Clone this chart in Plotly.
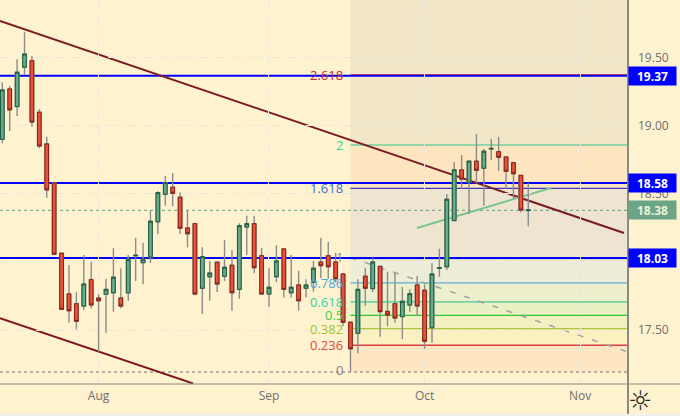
import plotly.graph_objects as go

bar_index = list(range(72))
opens = [18.902,19.272,19.142,19.432,19.480,19.101,18.868,18.581,18.064,17.765,17.693,17.676,17.870,17.735,17.763,17.774,17.735,17.774,18.046,17.995,18.037,18.296,18.498,18.549,18.476,18.250,18.282,17.807,17.892,17.998,17.895,17.976,17.799,18.257,18.282,18.046,17.765,17.892,18.096,17.774,17.831,17.807,17.851,18.000,18.046,18.000,17.912,17.557,17.476,17.895,17.804,17.968,17.637,17.693,17.598,17.684,17.831,17.792,17.517,17.954,17.965,18.304,18.677,18.586,18.741,18.689,18.831,18.811,18.772,18.730,18.637,18.379]
highs = [19.321,19.294,19.490,19.693,19.515,19.123,18.921,18.581,18.066,17.978,17.777,18.052,18.002,17.763,17.875,18.101,17.954,18.052,18.179,18.142,18.375,18.520,18.632,18.654,18.510,18.377,18.282,18.108,18.007,18.002,18.162,18.088,18.285,18.340,18.340,18.105,17.954,18.123,18.096,18.052,17.936,17.873,18.007,18.179,18.147,18.068,17.912,17.557,17.873,17.958,18.032,17.973,17.929,17.917,17.816,17.799,17.897,17.836,17.990,18.098,18.500,18.733,18.787,18.750,18.941,18.831,18.904,18.921,18.772,18.730,18.637,18.579]
lows = [18.873,18.963,19.074,19.375,18.995,18.836,18.473,18.052,17.647,17.554,17.505,17.647,17.660,17.340,17.480,17.635,17.660,17.715,17.860,17.836,17.995,18.206,18.414,18.407,18.206,18.108,17.755,17.618,17.715,17.779,17.860,17.642,17.730,18.052,17.917,17.757,17.671,17.851,17.738,17.738,17.642,17.740,17.782,17.880,17.877,17.851,17.530,17.193,17.329,17.676,17.779,17.451,17.530,17.554,17.434,17.635,17.603,17.360,17.407,17.892,17.941,18.302,18.537,18.351,18.579,18.414,18.750,18.671,18.537,18.463,18.365,18.262]
closes = [19.265,19.118,19.395,19.529,19.029,18.853,18.530,18.057,17.652,17.642,17.564,17.838,17.684,17.715,17.799,17.888,17.676,18.020,18.049,18.020,18.299,18.510,18.583,18.505,18.248,18.208,17.765,18.039,17.919,17.838,17.961,17.774,18.267,18.282,17.958,17.765,17.814,18.007,17.799,17.814,17.715,17.831,17.954,17.973,17.965,17.877,17.557,17.362,17.799,17.807,18.000,17.635,17.610,17.588,17.711,17.767,17.676,17.417,17.912,17.958,18.461,18.677,18.610,18.741,18.674,18.814,18.835,18.770,18.667,18.649,18.382,18.382]

month_ticks = [13, 36, 57, 78]
month_labels = ["Aug", "Sep", "Oct", "Nov"]
price_ticks = [17.5, 18.0, 18.5, 19.0, 19.5]
price_labels = ["17.50", "", "18.50", "19.00", "19.50"]

level_prices = [19.37, 18.58, 18.03]
last_price = 18.38

fib_ratios = ["0", "0.236", "0.382", "0.5", "0.618", "0.786", "1", "1.618", "2", "2.618"]
fib_prices = [17.191, 17.388, 17.510, 17.608, 17.707, 17.847, 18.025, 18.541, 18.860, 19.376]
fib_text_colors = ["#808080", "#e04848", "#9cc634", "#3fd03f", "#34d4a0", "#4aa8e0", "#909090", "#3f6fd8", "#34d4a0", "#c42a2a"]
fib_line_colors = ["#808080", "#d84040", "#a8c838", "#30c830", "#40c898", "#60aed8", "#9090a0", "#3838c0", "#70d0a0", "#d02020"]
fib_fill_colors = ["rgba(250,215,175,0.45)", "rgba(245,240,170,0.40)", "rgba(220,240,160,0.35)", "rgba(190,235,170,0.30)",
                   "rgba(190,235,200,0.28)", "rgba(190,225,240,0.28)", "rgba(170,175,215,0.20)", "rgba(250,215,175,0.5)",
                   "rgba(170,172,165,0.17)", "rgba(170,172,165,0.17)"]
fib_start = 47
axis_top = 19.926
axis_bottom = 17.103
x_left, x_right = -0.31, 84.46

upper_channel_x = [-0.31, 83.92]
upper_channel_y = [19.772, 18.213]
lower_channel_x = [-0.31, 25.74]
lower_channel_y = [17.586, 17.107]
green_trend_x = [55.98, 74.07]
green_trend_y = [18.250, 18.544]
dashed_trend_x = [47, 84.46]
dashed_trend_y = [18.033, 17.338]

RED, RED_EDGE = "#e8523a", "#8a1f14"
GREEN, GREEN_EDGE = "#68ab8b", "#1c5c3c"
WICK = "#8c8c8c"
FONT = "Open Sans"
AXIS_COLOR = "#8a8a80"

shapes = []
edges = fib_prices + [axis_top]
for i, fill in enumerate(fib_fill_colors):
    shapes.append(dict(type="rect", layer="below", x0=fib_start, x1=x_right, y0=edges[i], y1=edges[i + 1],
                       fillcolor=fill, line_width=0))
for i, (price, col) in enumerate(zip(fib_prices, fib_line_colors)):
    if i == 0:
        shapes.append(dict(type="line", layer="below", x0=x_left, x1=x_right, y0=price, y1=price,
                           line=dict(color="#707070", width=1, dash="dot")))
    else:
        shapes.append(dict(type="line", layer="below", x0=fib_start, x1=x_right, y0=price, y1=price,
                           line=dict(color=col, width=1.3)))
shapes.append(dict(type="line", layer="below", x0=x_left, x1=x_right, y0=last_price, y1=last_price,
                   line=dict(color="#5f9f7f", width=1, dash="dot")))
shapes.append(dict(type="line", layer="below", x0=dashed_trend_x[0], x1=dashed_trend_x[1], y0=dashed_trend_y[0], y1=dashed_trend_y[1],
                   line=dict(color="#a0a0a0", width=1.5, dash="6px,9px")))
for price in level_prices:
    shapes.append(dict(type="line", layer="below", x0=x_left, x1=x_right, y0=price, y1=price,
                       line=dict(color="#0000ff", width=2)))
for xs, ys, col in [(upper_channel_x, upper_channel_y, "#7b1a22"), (lower_channel_x, lower_channel_y, "#7b1a22"),
                    (green_trend_x, green_trend_y, "#7cc48c")]:
    shapes.append(dict(type="line", layer="below", x0=xs[0], x1=xs[1], y0=ys[0], y1=ys[1],
                       line=dict(color=col, width=2)))
# frame of the price and time scales: extends past the plot into the margins
shapes.append(dict(type="line", xref="paper", yref="paper", x0=1, x1=1, y0=-30 / 384, y1=1,
                   line=dict(color=AXIS_COLOR, width=2)))
shapes.append(dict(type="line", xref="paper", yref="paper", x0=0, x1=680 / 628, y0=0, y1=0,
                   line=dict(color=AXIS_COLOR, width=1)))
shapes.append(dict(type="rect", xref="paper", yref="paper", x0=0, x1=680 / 628, y0=-32 / 384, y1=-30 / 384,
                   fillcolor="#efefef", line_width=0))

fig = go.Figure()
fig.add_trace(go.Candlestick(x=bar_index, open=opens, high=highs, low=lows, close=closes,
                             increasing=dict(line=dict(color=WICK, width=1.4), fillcolor=WICK),
                             decreasing=dict(line=dict(color=WICK, width=1.4), fillcolor=WICK),
                             whiskerwidth=0, showlegend=False, hoverinfo="skip"))
fig.add_trace(go.Candlestick(x=bar_index, open=opens, close=closes,
                             high=[max(o, c) for o, c in zip(opens, closes)],
                             low=[min(o, c) for o, c in zip(opens, closes)],
                             increasing=dict(line=dict(color=GREEN_EDGE, width=1), fillcolor=GREEN),
                             decreasing=dict(line=dict(color=RED_EDGE, width=1), fillcolor=RED),
                             whiskerwidth=0, showlegend=False))

annotations = []
fib_label_x = 46.3
for r, p, c in zip(fib_ratios, fib_prices, fib_text_colors):
    annotations.append(dict(x=fib_label_x, y=p, text=r, showarrow=False, xanchor="right", yanchor="middle",
                            yshift=2 if r in ("0", "1") else 0,
                            font=dict(family=FONT, size=13, color=c)))
for p in level_prices:
    annotations.append(dict(xref="paper", x=1, y=p, text="<b>%.2f</b>" % p, showarrow=False, xanchor="left", yanchor="middle",
                            width=47, height=18, bgcolor="#0000ff", align="center", valign="middle", borderpad=0,
                            font=dict(family=FONT, size=12, color="#ffffff")))
annotations.append(dict(xref="paper", x=1, y=last_price, text="<b>%.2f</b>" % last_price, showarrow=False, xanchor="left", yanchor="middle",
                        width=47, height=18, bgcolor="#6ba586", align="center", valign="middle", borderpad=0,
                        font=dict(family=FONT, size=12, color="#e9f4d8")))
annotations.append(dict(xref="paper", yref="paper", x=1.0, y=-0.042, xshift=26, text="☼", showarrow=False, yanchor="middle",
                        font=dict(family="DejaVu Sans", size=27, color="#222222")))

fig.update_layout(
    width=680, height=416, margin=dict(l=0, r=52, t=0, b=32),
    paper_bgcolor="#fff2cf", plot_bgcolor="#fff2cf", font=dict(family=FONT, size=12, color="#6f6f6f"),
    showlegend=False, shapes=shapes, annotations=annotations,
    xaxis=dict(range=[x_left, x_right], tickmode="array", tickvals=month_ticks, ticktext=month_labels,
               showgrid=True, gridcolor="#e9e6dc", griddash="dash", gridwidth=1, rangeslider=dict(visible=False),
               showline=False, ticks="", zeroline=False, tickfont=dict(size=12), ticklabelstandoff=3),
    yaxis=dict(range=[axis_bottom, axis_top], side="right", tickmode="array", tickvals=price_ticks, ticktext=price_labels,
               showgrid=True, gridcolor="#e9e6dc", griddash="dash", gridwidth=1,
               showline=False, ticks="", zeroline=False, tickfont=dict(size=12), ticklabelstandoff=9),
)
fig.write_html("out.html", config=dict(displayModeBar=False), post_script="document.body.style.margin='0';document.body.style.overflow='hidden';")
